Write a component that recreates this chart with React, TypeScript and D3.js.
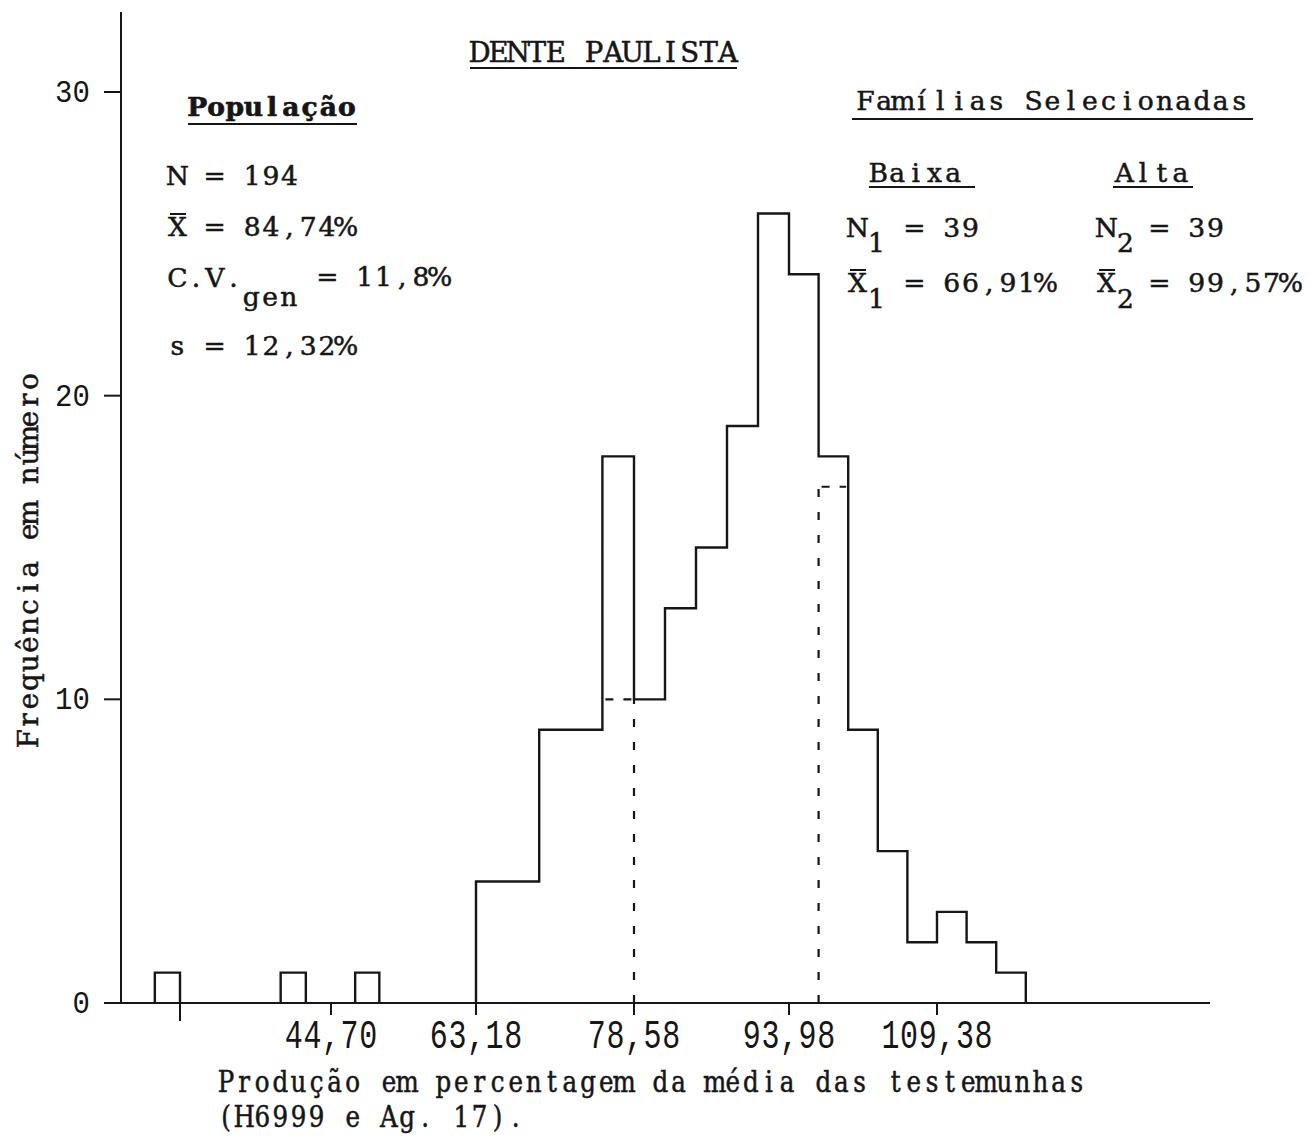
import * as d3 from "d3";
import React from "react";

const MONO = '"Liberation Mono", "DejaVu Sans Mono", monospace';
const TYPE = '"DejaVu Serif Condensed", "DejaVu Serif", serif';
const INK = "#161616";

// classes de produção (limite inferior), amplitude 3,08
const binWidth = 3.08;
const binLows = [63.18, 66.26, 69.34, 72.42, 75.5, 78.58, 81.66, 84.74, 87.82, 90.9, 93.98, 97.06, 100.14, 103.22, 106.3, 109.38, 112.46, 115.54];
const binCounts = [4, 4, 9, 9, 18, 10, 13, 15, 19, 26, 24, 18, 9, 5, 2, 3, 2, 1];

// familias isoladas na cauda esquerda
const strayLows = [23.14, 38.54, 47.78];
const strayCounts = [1, 1, 1];

// cortes das familias selecionadas (baixa / alta)
const cutEdges = [78.58, 97.06];
const cutBinLows = [75.5, 97.06];
const cutCounts = [10, 17];

const xTicks = [26.22, 44.7, 63.18, 78.58, 93.98, 109.38];
const xTickLabels = ["", "44,70", "63,18", "78,58", "93,98", "109,38"];
const yTicks = [0, 10, 20, 30];

// hand drawn axis: spacing is not uniform, so the scale is piecewise
const x = d3.scaleLinear().domain(xTicks).range([180, 331, 476, 634, 789, 937]);
const y = d3.scaleLinear().domain([0, 30]).range([1003, 92]);

type TProps = {
  x: number;
  y: number;
  text: string;
  p?: number;
  s?: number;
  sx?: number;
  sy?: number;
  anchor?: "start" | "middle" | "end";
  bold?: boolean;
  rotate?: number;
  font?: string;
  sw?: number;
};

// typewriter text: every glyph centred in its own fixed-pitch cell
function TT({ x, y, text, p = 18.7, s = 25, sx = 1.18, sy = 1.05, anchor = "start", bold = false, rotate = 0, font = TYPE, sw = 0.45 }: TProps) {
  const chars = Array.from(text);
  const n = chars.length;
  const start = anchor === "start" ? 0 : anchor === "middle" ? (-n * p) / 2 : -n * p;
  const xs = chars.map((_, i) => ((start + (i + 0.5) * p) / sx).toFixed(2)).join(" ");
  return (
    <text
      transform={`translate(${x},${y}) rotate(${rotate}) scale(${sx},${sy})`}
      x={xs}
      textAnchor="middle"
      fontSize={s}
      fontFamily={font}
      fontStretch="condensed"
      fontWeight={bold ? 700 : 400}
      fill={INK}
      stroke={INK}
      strokeWidth={sw}
    >
      {text}
    </text>
  );
}

function Bar({ x1, x2, yy, w = 2 }: { x1: number; x2: number; yy: number; w?: number }) {
  return <line x1={x1} x2={x2} y1={yy} y2={yy} stroke={INK} strokeWidth={w} />;
}

export default function App() {
  const step = d3
    .line<number[]>()
    .x((d) => x(d[0]))
    .y((d) => y(d[1]))
    .curve(d3.curveStepAfter);
  const plain = d3
    .line<number[]>()
    .x((d) => x(d[0]))
    .y((d) => y(d[1]));

  const lastHi = binLows[binLows.length - 1] + binWidth;
  const outline = [
    [binLows[0], 0],
    ...binLows.map((lo, i) => [lo, binCounts[i]]),
    [lastHi, binCounts[binCounts.length - 1]],
    [lastHi, 0],
  ];

  return (
    <svg
      width={1310}
      height={1137}
      style={{ position: "absolute", left: 0, top: 0, background: "#fff" }}
    >
      <rect width={1310} height={1137} fill="#fff" />

      {/* axes */}
      <line x1={121} x2={121} y1={12} y2={y(0) + 1} stroke={INK} strokeWidth={2} />
      <line x1={117} x2={1210} y1={y(0)} y2={y(0)} stroke={INK} strokeWidth={2} />

      {yTicks.map((t) => (
        <g key={t}>
          <line x1={104} x2={121} y1={y(t)} y2={y(t)} stroke={INK} strokeWidth={2} />
          <TT x={90} y={y(t) + 10} text={String(t)} p={17.5} s={29} sx={1} sy={1.1} anchor="end" font={MONO} sw={0} />
        </g>
      ))}

      {xTicks.map((t, i) => (
        <g key={t}>
          <line x1={x(t)} x2={x(t)} y1={y(0) - (i === 2 ? 6 : 0)} y2={y(0) + (i === 0 ? 18 : 12)} stroke={INK} strokeWidth={2} />
          <TT x={x(t)} y={1048} text={xTickLabels[i]} p={18.6} s={30} sx={1} sy={1.35} anchor="middle" font={MONO} sw={0} />
        </g>
      ))}

      {/* histogram */}
      <path d={step(outline) || ""} fill="none" stroke={INK} strokeWidth={2.4} />
      {strayLows.map((lo, i) => (
        <path
          key={lo}
          d={plain([[lo, 0], [lo, strayCounts[i]], [lo + binWidth, strayCounts[i]], [lo + binWidth, 0]]) || ""}
          fill="none"
          stroke={INK}
          strokeWidth={2.4}
        />
      ))}

      {/* selection cut-offs */}
      {cutEdges.map((e, i) => (
        <g key={e} stroke={INK} strokeWidth={2.2} strokeDasharray="8 15" fill="none">
          <line x1={x(e)} x2={x(e)} y1={y(0)} y2={y(cutCounts[i])} />
          <line
            x1={x(cutBinLows[i]) + 3}
            x2={x(cutBinLows[i] + binWidth) - 2}
            y1={y(cutCounts[i])}
            y2={y(cutCounts[i])}
            strokeDasharray="8 10"
          />
        </g>
      ))}

      {/* title */}
      <TT x={470} y={62} text="DENTE PAULISTA" p={19.1} s={26} />
      <Bar x1={470} x2={737} yy={68} />

      {/* população */}
      <TT x={188} y={116} text="População" bold sw={0.6} />
      <Bar x1={188} x2={357} yy={124} />
      <TT x={168} y={185} text="N = 194" />
      <TT x={168} y={236} text="X = 84,74%" />
      <Bar x1={170} x2={186} yy={214} />
      <TT x={168} y={287} text="C.V." />
      <TT x={242} y={306} text="gen" />
      <TT x={318} y={286} text="= 11,8%" />
      <TT x={168} y={355} text="s = 12,32%" />

      {/* famílias selecionadas */}
      <TT x={856} y={110} text="Famílias Selecionadas" />
      <Bar x1={852} x2={1253} yy={119} />
      <TT x={869} y={182} text="Baixa" />
      <Bar x1={869} x2={975} yy={187} />
      <TT x={1115} y={182} text="Alta" />
      <Bar x1={1113} x2={1193} yy={187} />

      <TT x={848} y={237} text="N" />
      <TT x={867} y={252} text="1" />
      <TT x={905} y={237} text="= 39" />
      <TT x={1097} y={237} text="N" />
      <TT x={1116} y={252} text="2" />
      <TT x={1150} y={237} text="= 39" />

      <TT x={848} y={292} text="X" />
      <Bar x1={850} x2={866} yy={270} />
      <TT x={867} y={308} text="1" />
      <TT x={905} y={292} text="= 66,91%" />
      <TT x={1097} y={292} text="X" />
      <Bar x1={1099} x2={1115} yy={270} />
      <TT x={1116} y={308} text="2" />
      <TT x={1150} y={292} text="= 99,57%" />

      {/* axis titles */}
      <TT x={38} y={560} rotate={-90} anchor="middle" text="Frequência em número" p={18.8} s={26} />
      <TT x={217} y={1092} text="Produção em percentagem da média das testemunhas" p={18.1} s={26} sx={1.05} sy={1.15} />
      <TT x={217} y={1127} text="(H6999 e Ag. 17)." p={18.1} s={26} sx={1.05} sy={1.15} />
    </svg>
  );
}
